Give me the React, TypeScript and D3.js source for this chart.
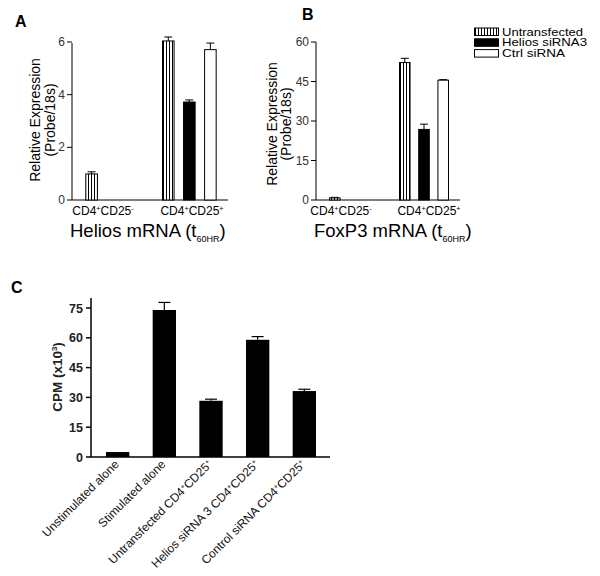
import React from "react";
import * as d3 from "d3";

const groupsAB = ["CD4+CD25-", "CD4+CD25+"];
const seriesNames = ["Untransfected", "Helios siRNA3", "Ctrl siRNA"];
// Panel A: Helios mRNA
const heliosVals = [[0.99, null, null], [6.04, 3.72, 5.71]];
const heliosErr = [[0.08, 0, 0], [0.15, 0.08, 0.25]];
const heliosTicks = [0, 2, 4, 6];
// Panel B: FoxP3 mRNA
const foxp3Vals = [[0.8, null, null], [52.2, 26.8, 45.5]];
const foxp3Err = [[0.2, 0, 0], [1.6, 2.0, 0.2]];
const foxp3Ticks = [0, 15, 30, 45, 60];
// Panel C
const cCats = ["Unstimulated alone", "Stimulated alone", "Untransfected CD4+CD25+", "Helios siRNA 3 CD4+CD25+", "Control siRNA  CD4+CD25+"];
const cVals = [2.5, 74, 28.3, 59, 33.2];
const cErr = [0, 3.8, 0.8, 1.6, 0.9];
const cTicks = [0, 15, 30, 45, 60, 75];

const FONT = "Liberation Sans, Arial, sans-serif";
const legendWidths = [81, 85, 63];

function CDLabel({ x, y, sign, size }: { x: number; y: number; sign: string; size: number }) {
  return (
    <text x={x} y={y} textAnchor="middle" fontSize={size} fontFamily={FONT}>
      CD4<tspan fontSize={size * 0.6} dy={-size * 0.35}>+</tspan>
      <tspan dy={size * 0.35}>CD25</tspan>
      <tspan fontSize={size * 0.6} dy={-size * 0.35}>{sign}</tspan>
    </text>
  );
}

function fillFor(i: number) {
  return i === 0 ? "url(#stripes)" : i === 1 ? "#000" : "#fff";
}

function PanelAB({ ox, yMax, axisTop, ticks, vals, errs, title, letter, letterX, letterY, xEnd, ylabX1, ylabX2, ylabY, labCenters, tickGap }: any) {
  const y = d3.scaleLinear().domain([0, yMax]).range([200, 42]);
  const axisX = ox;
  const g0 = d3.scaleBand().domain(groupsAB).range([ox + 10, xEnd - 8]).paddingInner(0.3).paddingOuter(0.05);
  return (
    <g fontFamily={FONT}>
      <text x={letterX} y={letterY} fontSize={16} fontWeight="bold">{letter}</text>
      <line x1={axisX} x2={axisX} y1={axisTop} y2={200} stroke="#000" strokeWidth={1} />
      <line x1={axisX} x2={xEnd} y1={200} y2={200} stroke="#000" strokeWidth={1} />
      {ticks.map((t: number) => (
        <g key={t}>
          <line x1={axisX - 5} x2={axisX} y1={y(t)} y2={y(t)} stroke="#000" />
          <text x={axisX - tickGap} y={y(t) + 4} textAnchor="end" fontSize={12} fill="#333">{t}</text>
        </g>
      ))}
      <text transform={`translate(${ylabX1},${ylabY}) rotate(-90)`} textAnchor="middle" fontSize={14}>Relative Expression</text>
      <text transform={`translate(${ylabX2},${ylabY}) rotate(-90)`} textAnchor="middle" fontSize={14}>(Probe/18s)</text>
      {groupsAB.map((gname, gi) => {
        const inner = d3.scaleBand().domain(["0", "1", "2"]).range([g0(gname)!, g0(gname)! + g0.bandwidth()]).paddingInner(0.45);
        return (
          <g key={gname}>
            {vals[gi].map((v: number | null, si: number) => {
              if (v == null) return null;
              const bx = inner(String(si))!;
              const bw = inner.bandwidth();
              const e = errs[gi][si];
              return (
                <g key={si}>
                  {e > 0 && (
                    <g stroke="#000" strokeWidth={1}>
                      <line x1={bx + bw / 2} x2={bx + bw / 2} y1={y(v)} y2={y(v + e)} />
                      <line x1={bx + bw / 2 - 4} x2={bx + bw / 2 + 4} y1={y(v + e)} y2={y(v + e)} />
                    </g>
                  )}
                  <rect x={bx} y={y(v)} width={bw} height={200 - y(v)} fill={fillFor(si)} stroke="#000" strokeWidth={1} />
                </g>
              );
            })}
            <CDLabel x={labCenters[gi]} y={215} sign={gi === 0 ? "-" : "+"} size={12} />
          </g>
        );
      })}
      <text x={ox - 2} y={237} fontSize={18.5}>
        {title} (t<tspan fontSize={9} dy={5}>60HR</tspan><tspan dy={-5}>)</tspan>
      </text>
    </g>
  );
}

export default function App() {
  const cx = d3.scaleBand().domain(cCats).range([92, 330]).paddingInner(0.5).paddingOuter(0.3);
  const cy = d3.scaleLinear().domain([0, 75]).range([457, 308]);
  return (
    <svg width={600} height={576} style={{ position: "absolute", left: 0, top: 0, background: "#fff" }}>
      <defs>
        <pattern id="stripes" width={3} height={10} patternUnits="userSpaceOnUse">
          <rect width={3} height={10} fill="#fff" />
          <line x1={1.5} x2={1.5} y1={0} y2={10} stroke="#000" strokeWidth={1} />
        </pattern>
      </defs>
      <rect width={600} height={576} fill="#fff" />
      <PanelAB ox={72} yMax={6} axisTop={43} ticks={heliosTicks} vals={heliosVals} errs={heliosErr} title="Helios mRNA" letter="A" letterX={15} letterY={27} xEnd={228} ylabX1={40} ylabX2={55} ylabY={120} labCenters={[103, 192]} tickGap={7} />
      <PanelAB ox={316} yMax={60} axisTop={42} ticks={foxp3Ticks} vals={foxp3Vals} errs={foxp3Err} title="FoxP3 mRNA" letter="B" letterX={302} letterY={20} xEnd={460} ylabX1={277} ylabX2={291} ylabY={124} labCenters={[341, 429]} tickGap={7} />
      {/* Legend */}
      <g fontFamily={FONT} fontSize={11}>
        {seriesNames.map((s, i) => (
          <g key={s}>
            <rect x={474.5} y={28 + i * 10.8} width={24} height={7.5} fill={fillFor(i)} stroke="#000" strokeWidth={1} />
            <text x={502} y={35.5 + i * 10.8} textLength={legendWidths[i]} lengthAdjust="spacingAndGlyphs">{s}</text>
          </g>
        ))}
      </g>
      {/* Panel C */}
      <g fontFamily={FONT}>
        <text x={11} y={293} fontSize={16} fontWeight="bold">C</text>
        <line x1={91} x2={91} y1={298} y2={457} stroke="#000" strokeWidth={1.5} />
        <line x1={91} x2={330} y1={457} y2={457} stroke="#000" strokeWidth={1.5} />
        {cTicks.map((t) => (
          <g key={t}>
            <line x1={86} x2={91} y1={cy(t)} y2={cy(t)} stroke="#000" strokeWidth={1.5} />
            <text x={83} y={cy(t) + 4.5} textAnchor="end" fontSize={12.5} fontWeight="bold" fill="#222">{t}</text>
          </g>
        ))}
        <text transform="translate(62,377) rotate(-90)" textAnchor="middle" fontSize={13.5} fontWeight="bold" fill="#222">
          CPM (x10<tspan fontSize={8} dy={-5}>3</tspan><tspan dy={5}>)</tspan>
        </text>
        {cCats.map((c, i) => {
          const bx = cx(c)!;
          const bw = cx.bandwidth();
          const v = cVals[i];
          const e = cErr[i];
          const mid = bx + bw / 2;
          const m = c.match(/^(.*CD4)\+CD25\+$/);
          return (
            <g key={c}>
              {e > 0 && (
                <g stroke="#000" strokeWidth={1.2}>
                  <line x1={mid} x2={mid} y1={cy(v)} y2={cy(v + e)} />
                  <line x1={mid - 6} x2={mid + 6} y1={cy(v + e)} y2={cy(v + e)} />
                </g>
              )}
              <rect x={bx} y={cy(v)} width={bw} height={457 - cy(v)} fill="#000" />
              <text transform={`translate(${mid + 2},465) rotate(-45)`} textAnchor="end" fontSize={12} fill="#111">
                {m ? (
                  <>
                    {m[1]}<tspan fontSize={7} dy={-4}>+</tspan><tspan dy={4}>CD25</tspan><tspan fontSize={7} dy={-4}>+</tspan>
                  </>
                ) : c}
              </text>
            </g>
          );
        })}
      </g>
    </svg>
  );
}
